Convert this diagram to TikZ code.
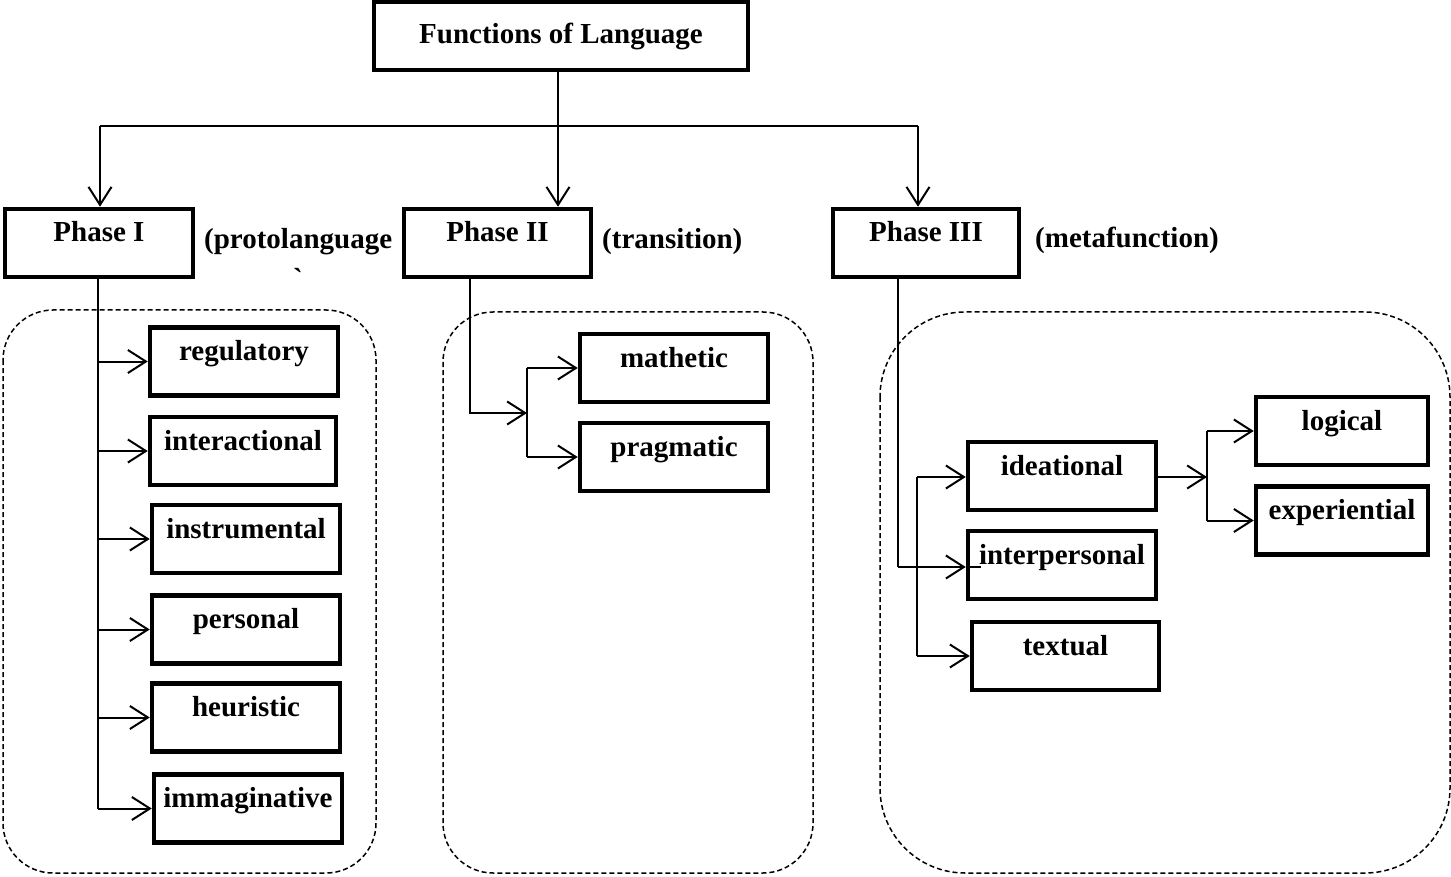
\documentclass[tikz,border=0pt]{standalone}
\usepackage{fontspec}
\setmainfont{Liberation Serif}
\newfontfamily\plainserif{Liberation Serif}
\usetikzlibrary{arrows.meta}
\begin{document}
\begin{tikzpicture}[x=1pt,y=-1pt,
  font=\fontsize{29}{34}\selectfont\bfseries,
  fbox/.style={draw, line width=4.5pt, inner sep=0pt, minimum width=#1,
    minimum height=68pt, text height=20pt, text depth=22pt},
  fbox/.default=188pt,
  link/.style={line width=2pt},
  arr/.style={link, -{Straight Barb[length=18pt,width=23pt]}},
  group/.style={draw, dash pattern=on 5pt off 3pt, line width=1.5pt, rounded corners=#1},
  note/.style={anchor=base west, inner sep=0pt}]
\useasboundingbox (0,0) rectangle (1451,877);

% dashed groupings
\draw[group=50pt] (3,310) rectangle (376,873);
\draw[group=50pt] (443,312) rectangle (813,873);
\draw[group=85pt] (880,312) rectangle (1450,873);

% root and phases
\node[fbox=374pt, text height=24pt, text depth=8pt] (top) at (561,36) {Functions of Language};
\node[fbox] (P1) at (99,243) {Phase I};
\node[fbox=187pt] (P2) at (497.5,243) {Phase II};
\node[fbox=186pt] (P3) at (926,243) {Phase III};

\node[note] (n1) at (204,249) {(protolanguage};
\node[anchor=north, inner sep=0pt] (n1b) at (298,268) {\plainserif\bfseries `};
\node[note] (n2) at (602,249) {(transition)};
\node[note] (n3) at (1035,248) {(metafunction)};

% phase I functions
\node[fbox] (reg) at (244,361.5) {regulatory};
\node[fbox=186pt] (int) at (243,451) {interactional};
\node[fbox] (ins) at (246,539) {instrumental};
\node[fbox] (per) at (246,629.5) {personal};
\node[fbox] (heu) at (246,717.5) {heuristic};
\node[fbox] (imm) at (248,808.5) {immaginative};

% phase II functions
\node[fbox] (math) at (674,368) {mathetic};
\node[fbox] (prag) at (674,457) {pragmatic};

% phase III functions
\node[fbox] (ide) at (1062,476) {ideational};
\node[fbox] (inter) at (1062,565) {interpersonal};
\node[fbox=187pt] (tex) at (1065.5,656) {textual};
\node[fbox=172pt] (log) at (1342,431) {logical};
\node[fbox=172pt] (exp) at (1342,520.5) {experiential};

% root to phases
\coordinate (hub) at (558,126);
\coordinate (L) at (100,126);
\coordinate (R) at (918,126);
\draw[link] (top.south -| hub) -- (hub);
\draw[line width=1.5pt] (L) -- (R);
\draw[arr] (hub) -- (hub |- P2.north);
\draw[arr] (L) -- (L |- P1.north);
\draw[arr] (R) -- (R |- P3.north);

% phase I bus
\coordinate (b1) at (98,808);
\draw[link] (P1.south -| b1) -- (b1 |- imm.west);
\foreach \n in {reg,int,ins,per,heu,imm}
  \draw[arr] (b1 |- \n.west) -- (\n.west);

% phase II branch
\coordinate (b2) at (470,413);
\coordinate (j2) at (527,413);
\draw[arr] (P2.south -| b2) |- (j2);
\draw[link] (j2 |- math.west) -- (j2 |- prag.west);
\draw[arr] (j2 |- math.west) -- (math.west);
\draw[arr] (j2 |- prag.west) -- (prag.west);

% phase III branch
\coordinate (b3) at (898,567);
\draw[line width=1.2pt] (P3.south -| b3) -- (b3);
\draw[arr] (b3) -- (b3 -| inter.west);
\draw[link] (b3 -| inter.west) -- ([xshift=15pt]b3 -| inter.west);
\coordinate (c3) at (917,477);
\draw[link] (c3) -- (c3 |- tex.west);
\draw[arr] (c3) -- (c3 -| ide.west);
\draw[arr] (c3 |- tex.west) -- (tex.west);

% ideational subdivision
\coordinate (d3) at (1207,477);
\draw[arr] (ide.east |- d3) -- (d3);
\draw[link] (d3 |- log.west) -- (d3 |- exp.west);
\draw[arr] (d3 |- log.west) -- (log.west);
\draw[arr] (d3 |- exp.west) -- (exp.west);
\end{tikzpicture}
\end{document}
